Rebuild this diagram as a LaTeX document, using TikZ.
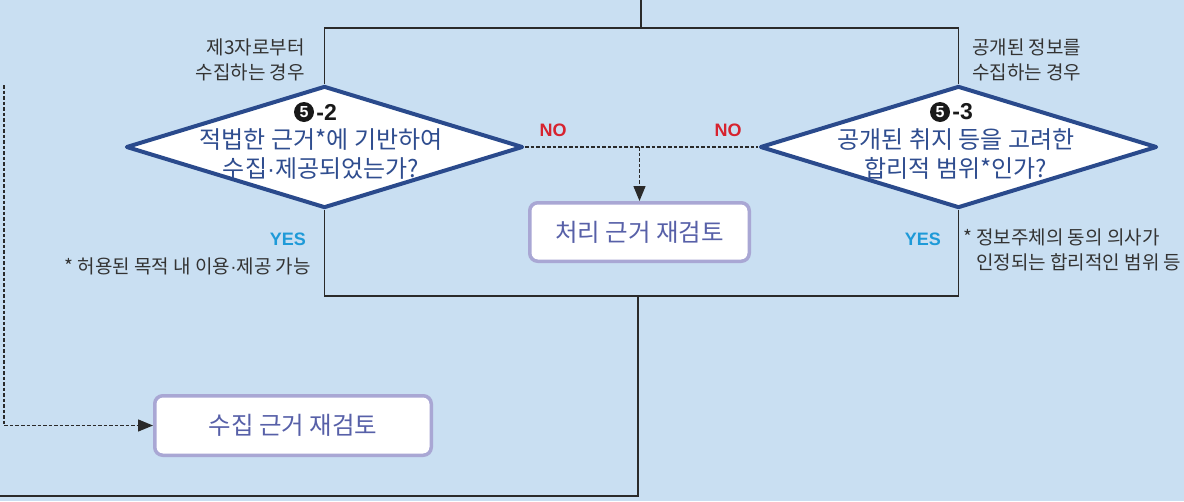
\documentclass[tikz,border=0pt]{standalone}
\usepackage{fontspec}
\setmainfont{Noto Sans CJK KR}
\newfontfamily\latinsans{Liberation Sans}
\usetikzlibrary{shapes.geometric,arrows.meta}
\definecolor{bg}{HTML}{C9DFF2}
\definecolor{diacol}{HTML}{2A4A8C}
\definecolor{diatext}{HTML}{2F4D8F}
\definecolor{boxcol}{HTML}{A9A7D4}
\definecolor{boxtext}{HTML}{5760A8}
\definecolor{linecol}{HTML}{2A2A2A}
\definecolor{yescol}{HTML}{1E9AD8}
\definecolor{nocol}{HTML}{D7232F}
\definecolor{sidetext}{HTML}{333333}
\newcommand{\mdot}{{\latinsans\char"00B7}}
\tikzset{
  dia/.style={diamond, draw=diacol, line width=4pt, fill=white, minimum width=397pt, minimum height=122pt, inner sep=0pt, line join=round},
  diatxt/.style={align=center, text=diatext, inner sep=0pt, font=\fontsize{24}{29}\selectfont},
  numcirc/.style={circle, fill=black!90, text=white, inner sep=0pt, minimum size=20pt, font=\latinsans\bfseries\fontsize{16}{16}\selectfont},
  numtxt/.style={inner sep=0pt, text=black!90, font=\latinsans\bfseries\fontsize{23}{23}\selectfont},
  rbox/.style={draw=boxcol, line width=3.5pt, fill=white, rounded corners=8pt, text=boxtext, font=\fontsize{24.5}{28}\selectfont},
  conn/.style={draw=linecol, line width=1.3pt},
  dashline/.style={draw=linecol, line width=1.4pt, dash pattern=on 3.5pt off 2pt},
  tip/.style={-{Triangle[length=15pt,width=12pt]}},
  side/.style={text=sidetext, inner sep=0pt, font=\fontsize{19}{25}\selectfont},
  yeslbl/.style={text=yescol, inner sep=0pt, font=\latinsans\bfseries\fontsize{18}{18}\selectfont},
  nolbl/.style={text=nocol, inner sep=0pt, font=\latinsans\bfseries\fontsize{18}{18}\selectfont},
}
\begin{document}
\begin{tikzpicture}[x=1pt,y=-1pt]
\fill[bg] (0,0) rectangle (1184,501);
\useasboundingbox (0,0) rectangle (1184,501);

% diamonds
\node[dia] (d1) at (324.5,147) {};
\node[dia] (d2) at (958.5,147) {};

% boxes
\node[rbox, minimum width=219.5pt, minimum height=58.5pt] (b1) at (639.5,232) {처리 근거 재검토};
\node[rbox, minimum width=276.5pt, minimum height=59.5pt] (b2) at (293,425.5) {수집 근거 재검토};

% coordinates
\coordinate (t0) at (641,0);
\coordinate (tj) at (641,28);
\coordinate (bj) at (638,296);
\coordinate (bend) at (0,496);
\coordinate (dtop) at (4,85);

% solid connectors
\draw[conn] (t0) -- (tj);
\draw[conn] (d1.north) |- (tj) -| (d2.north);
\draw[conn] (d1.south) |- (bj) -| (d2.south);
\draw[conn] (bj) |- (bend);

% dashed connectors
\draw[dashline] (d1.east) -- (d2.west);
\draw[dashline, tip] (b1.north |- d1.east) -- (b1.north);
\draw[dashline, tip] (dtop) |- (b2.west);

% diamond texts
\node[numcirc] (n1) at (304,112) {5};
\node[numtxt, anchor=west] (n1b) at ([xshift=2pt]n1.east) {-2};
\node[diatxt] (t1) at (321,154.5) {적법한 근거*에 기반하여\\수집\mdot 제공되었는가?};
\node[numcirc] (n2) at (940,112) {5};
\node[numtxt, anchor=west] (n2b) at ([xshift=2pt]n2.east) {-3};
\node[diatxt] (t2) at (956,154.5) {공개된 취지 등을 고려한\\합리적 범위*인가?};

% side texts
\node[side, anchor=east, align=right] (s1) at (305,60) {제3자로부터\\수집하는 경우};
\node[side, anchor=west, align=left] (s2) at (972,60) {공개된 정보를\\수집하는 경우};
\node[side, anchor=east] (f1) at (311,266) {* 허용된 목적 내 이용\mdot 제공 가능};
\node[side, anchor=west, align=left] (f2) at (963,249.5) {* 정보주체의 동의 의사가\\\hspace*{13pt}인정되는 합리적인 범위 등};

% labels
\node[yeslbl, anchor=east] (y1) at (306,239) {YES};
\node[yeslbl, anchor=east] (y2) at (941,239) {YES};
\node[nolbl] (no1) at (553,130.5) {NO};
\node[nolbl] (no2) at (728,130.5) {NO};
\end{tikzpicture}
\end{document}
